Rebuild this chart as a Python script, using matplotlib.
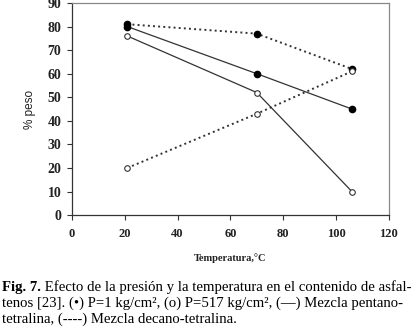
import matplotlib
matplotlib.use("Agg")
import matplotlib.pyplot as plt

temps = [21, 70, 106]
pentano_p1 = [80, 60, 45]
pentano_p517 = [76, 52, 10]
decano_p1 = [81, 77, 62]
decano_p517 = [20, 43, 61]

serif = ["Liberation Serif", "DejaVu Serif"]

fig = plt.figure(figsize=(4.2, 3.34), dpi=100)
ax = fig.add_axes([0.171, 0.356, 0.755, 0.635])

lc = "#333333"
ax.plot(temps, pentano_p1, "-", color=lc, lw=0.9, marker="o", ms=4.5,
        mfc="black", mec="black")
ax.plot(temps, pentano_p517, "-", color=lc, lw=0.9, marker="o", ms=4,
        mfc="white", mec="#333333", mew=0.8)
ax.plot(temps, decano_p1, ":", color=lc, lw=1.4, marker="o", ms=4.5,
        mfc="black", mec="black")
ax.plot(temps, decano_p517, ":", color=lc, lw=1.4, marker="o", ms=4,
        mfc="white", mec="#333333", mew=0.8)

ax.set_xlim(0, 120)
ax.set_ylim(0, 90)
ax.set_xticks(range(0, 121, 20))
ax.set_yticks(range(0, 91, 10))
for lab in ax.get_xticklabels():
    lab.set_fontfamily(serif)
    lab.set_fontsize(9)
    lab.set_fontweight("bold")
for lab in ax.get_yticklabels():
    lab.set_fontfamily(serif)
    lab.set_fontsize(10)
    lab.set_fontweight("bold")
ax.tick_params(direction="out", length=3.5, width=0.8, colors="#333333",
               labelcolor="#222222", pad=4)
ax.tick_params(axis="x", pad=6)
for s in ["left", "bottom"]:
    ax.spines[s].set_color("#333333")
    ax.spines[s].set_linewidth(0.9)
for s in ["top", "right"]:
    ax.spines[s].set_color("#888888")
    ax.spines[s].set_linewidth(0.9)

ax.set_ylabel("% peso", fontsize=8.5, family=["Liberation Sans", "DejaVu Sans"],
              labelpad=8, color="#222222")
ax.set_xlabel("Temperatura,°C", fontsize=7.5, family=serif, fontweight="bold",
              labelpad=9, color="#222222")

# caption
fs = 10.6
fig.canvas.draw()
r = fig.canvas.get_renderer()
t0 = fig.text(0.005, 0.130, "Fig. 7.", fontsize=fs, family=serif,
              fontweight="bold", va="baseline")
w = t0.get_window_extent(renderer=r).width / fig.bbox.width
fig.text(0.005 + w, 0.130,
         " Efecto de la presión y la temperatura en el contenido de asfal-",
         fontsize=fs, family=serif, va="baseline")
fig.text(0.005, 0.082,
         "tenos [23]. (•) P=1 kg/cm², (o) P=517 kg/cm², (—) Mezcla pentano-",
         fontsize=fs, family=serif, va="baseline")
fig.text(0.005, 0.034, "tetralina, (----) Mezcla decano-tetralina.",
         fontsize=fs, family=serif, va="baseline")

fig.savefig("out.png", dpi=100)
